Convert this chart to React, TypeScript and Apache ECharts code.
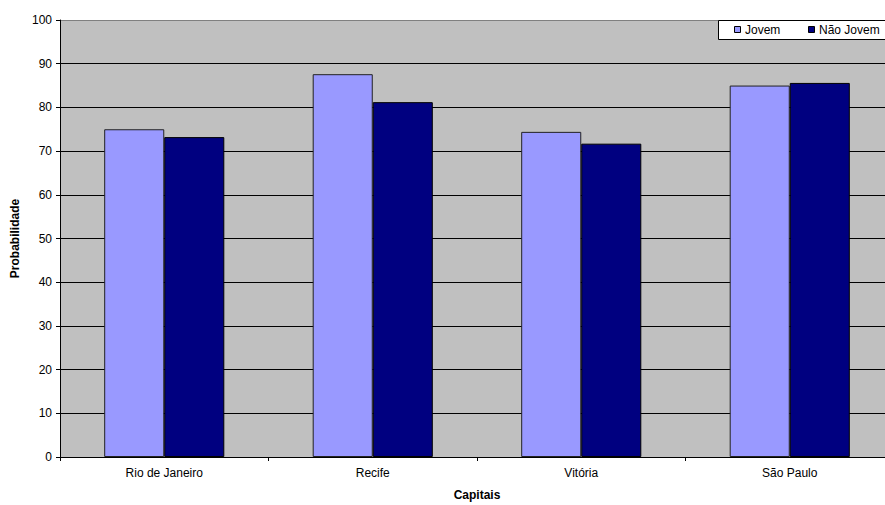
import React, { useEffect, useRef } from "react";
import * as echarts from "echarts";

const categories = ["Rio de Janeiro", "Recife", "Vitória", "São Paulo"];
const jovem = [75.0, 87.6, 74.4, 85.0];
const naoJovem = [73.2, 81.2, 71.7, 85.6];
const seriesNames = ["Jovem", "Não Jovem"];
const seriesColors = ["#9999FF", "#000080"];

export default function App() {
  const ref = useRef<HTMLDivElement>(null);
  useEffect(() => {
    if (!ref.current) return;
    const chart = echarts.init(ref.current, null, { renderer: "svg" });
    const font = "Liberation Sans, Arial, sans-serif";
    const splitColors = ["#000", "#000", "#000", "#000", "#000", "#000", "#000", "#000", "#000", "#000", "#808080"];
    chart.setOption({
      animation: false,
      textStyle: { fontFamily: font },
      grid: {
        left: 60,
        top: 20,
        right: -9,
        bottom: 48,
        outerBoundsMode: "none",
        containLabel: false,
        show: true,
        backgroundColor: "#C0C0C0",
        borderWidth: 0,
      },
      graphic: [
        {
          type: "rect",
          z: 100,
          shape: { x: 718.5, y: 20.5, width: 180, height: 19 },
          style: { fill: "#fff", stroke: "#000", lineWidth: 1 },
        },
        {
          type: "rect",
          z: 101,
          shape: { x: 734.5, y: 26.5, width: 6, height: 6 },
          style: { fill: seriesColors[0], stroke: "#000", lineWidth: 1 },
        },
        {
          type: "text",
          z: 101,
          x: 745,
          y: 30,
          style: { text: seriesNames[0], fontFamily: font, fontSize: 12, fill: "#000", verticalAlign: "middle" },
        },
        {
          type: "rect",
          z: 101,
          shape: { x: 808.5, y: 26.5, width: 6, height: 6 },
          style: { fill: seriesColors[1], stroke: "#000", lineWidth: 1 },
        },
        {
          type: "text",
          z: 101,
          x: 819,
          y: 30,
          style: { text: seriesNames[1], fontFamily: font, fontSize: 12, fill: "#000", verticalAlign: "middle" },
        },
      ],
      xAxis: {
        type: "category",
        data: categories,
        name: "Capitais",
        nameLocation: "middle",
        nameGap: 32,
        nameTextStyle: { fontFamily: font, fontSize: 12, fontWeight: "bold", color: "#000" },
        axisLine: { lineStyle: { color: "#000", width: 1 } },
        axisTick: { show: true, length: 4, lineStyle: { color: "#000" } },
        axisLabel: { fontFamily: font, fontSize: 12, color: "#000", margin: 10 },
      },
      yAxis: {
        type: "value",
        min: 0,
        max: 100,
        interval: 10,
        name: "Probabilidade",
        nameLocation: "middle",
        nameGap: 39,
        nameTextStyle: { fontFamily: font, fontSize: 12, fontWeight: "bold", color: "#000" },
        axisLine: { show: true, lineStyle: { color: "#000", width: 1 } },
        axisTick: { show: true, length: 4, lineStyle: { color: "#000" } },
        axisLabel: { fontFamily: font, fontSize: 12, color: "#000", margin: 8 },
        splitLine: { show: true, lineStyle: { color: splitColors, width: 1 } },
      },
      series: [
        {
          name: seriesNames[0],
          type: "bar",
          data: jovem,
          barGap: "0%",
          barCategoryGap: "42.4%",
          itemStyle: { color: seriesColors[0], borderColor: "#222", borderWidth: 1 },
        },
        {
          name: seriesNames[1],
          type: "bar",
          data: naoJovem,
          barGap: "0%",
          barCategoryGap: "42.4%",
          itemStyle: { color: seriesColors[1], borderColor: "#000", borderWidth: 1 },
        },
      ],
    });
    return () => chart.dispose();
  }, []);
  return <div ref={ref} style={{ width: 885, height: 505, position: "absolute", left: 0, top: 0 }} />;
}
